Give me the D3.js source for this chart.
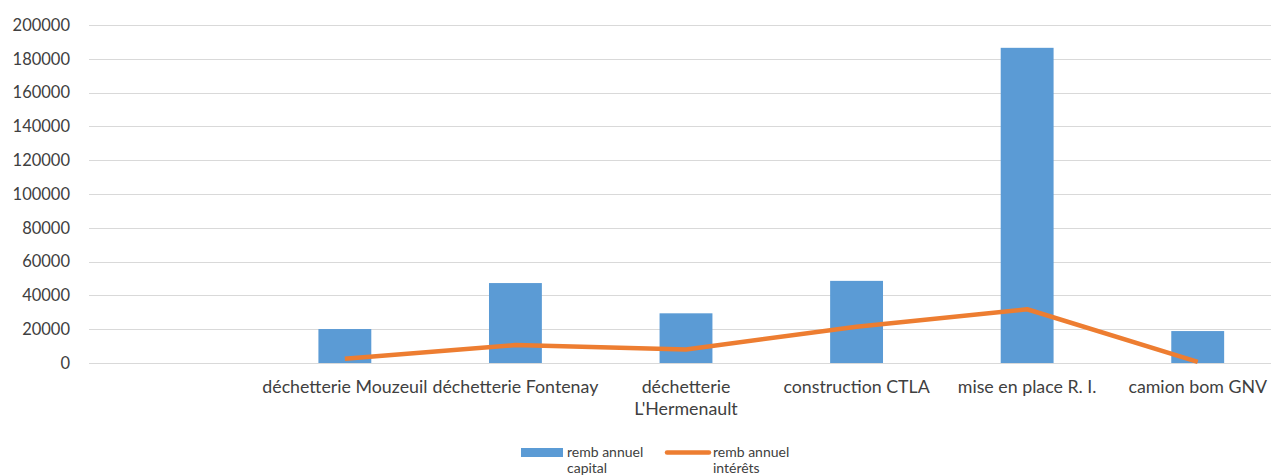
<!DOCTYPE html>
<html>
<head>
<meta charset="utf-8">
<script src="https://cdn.jsdelivr.net/npm/d3@7"></script>
<style>
 body{margin:0;background:#fff;}
 text{font-family:Lato, "Noto Sans", sans-serif;fill:#404040;}
</style>
</head>
<body>
<script>
// chart values
var categories = ["", "déchetterie Mouzeuil", "déchetterie Fontenay", "déchetterie L'Hermenault", "construction CTLA", "mise en place R. I.", "camion bom GNV"]
var capital = [null, 20100, 47300, 29400, 48600, 186500, 18900]
var interets = [null, 2500, 10600, 8000, 21500, 31800, 700]
var yTicks = [0, 20000, 40000, 60000, 80000, 100000, 120000, 140000, 160000, 180000, 200000]
var seriesNames = ["remb annuel capital", "remb annuel intérêts"]

var screen = {width:1271, height:475}
var margin = {top:25, left:89, right:-12, bottom:112}
var h = screen.height - margin.top - margin.bottom
var w = screen.width - margin.left - margin.right

var svg = d3.select("body")
  .append("svg")
  .attr("width", screen.width)
  .attr("height", screen.height)

var g = svg.append("g")
  .attr("transform", "translate(" + margin.left + "," + margin.top + ")")

var x = d3.scaleBand()
  .domain(categories)
  .range([0, w])
  .paddingInner(0.69)
  .paddingOuter(0.345)

var y = d3.scaleLinear()
  .domain([0, 200000])
  .range([h, 0])

// gridlines
g.selectAll("line.grid")
  .data(yTicks)
  .enter()
  .append("line")
  .attr("class", "grid")
  .attr("x1", 0)
  .attr("x2", w)
  .attr("y1", function(d){ return Math.round(y(d)) + 0.5 })
  .attr("y2", function(d){ return Math.round(y(d)) + 0.5 })
  .attr("stroke", "#d9d9d9")
  .attr("stroke-width", 1)

// y axis labels
var yAxis = d3.axisLeft(y).tickValues(yTicks).tickSize(0).tickPadding(19).tickFormat(d3.format("d"))
var ya = g.append("g").call(yAxis)
ya.select(".domain").remove()
ya.selectAll("text").style("font-size", "16.5px").style("font-family", "Lato").attr("fill", "#404040")

// bars
var data = categories.map(function(c, i){
  return {cat: c, cap: capital[i], int: interets[i]}
})

g.selectAll("rect.bar")
  .data(data.filter(function(d){ return d.cap != null }))
  .enter()
  .append("rect")
  .attr("class", "bar")
  .attr("x", function(d){ return x(d.cat) })
  .attr("width", x.bandwidth())
  .attr("y", function(d){ return y(d.cap) })
  .attr("height", function(d){ return h - y(d.cap) })
  .attr("fill", "#5b9bd5")

// line
var line = d3.line()
  .x(function(d){ return x(d.cat) + x.bandwidth()/2 })
  .y(function(d){ return y(d.int) })

g.append("path")
  .datum(data.filter(function(d){ return d.int != null }))
  .attr("d", line)
  .attr("fill", "none")
  .attr("stroke", "#ed7d31")
  .attr("stroke-width", 4.5)
  .attr("stroke-linejoin", "round")

// x labels, wrapped like Excel when too wide
var xl = g.append("g")
xl.selectAll("text")
  .data(categories)
  .enter()
  .append("text")
  .attr("x", function(d){ return x(d) + x.bandwidth()/2 })
  .attr("y", h + 30)
  .attr("text-anchor", "middle")
  .style("font-size", "17.8px")
  .each(function(d){
    var t = d3.select(this)
    t.text(d)
    if (this.getComputedTextLength() > 185) {
      var words = d.split(" ")
      t.text(null)
      words.forEach(function(wd, k){
        t.append("tspan").attr("x", x(d) + x.bandwidth()/2).attr("dy", k == 0 ? 0 : 22).text(wd)
      })
    }
  })

// legend
var leg = svg.append("g")
leg.append("rect")
  .attr("x", 521).attr("y", 448).attr("width", 42).attr("height", 9)
  .attr("fill", "#5b9bd5")
leg.append("line")
  .attr("x1", 667).attr("x2", 709).attr("y1", 452.5).attr("y2", 452.5)
  .attr("stroke", "#ed7d31").attr("stroke-width", 4.5).attr("stroke-linecap", "round")

var legX = [567, 713]
seriesNames.forEach(function(s, i){
  var parts = [s.split(" ").slice(0,2).join(" "), s.split(" ").slice(2).join(" ")]
  var t = leg.append("text").attr("x", legX[i]).attr("y", 457).style("font-size", "14px")
  parts.forEach(function(p, k){
    t.append("tspan").attr("x", legX[i]).attr("dy", k == 0 ? 0 : 16).text(p)
  })
})
</script>
</body>
</html>
